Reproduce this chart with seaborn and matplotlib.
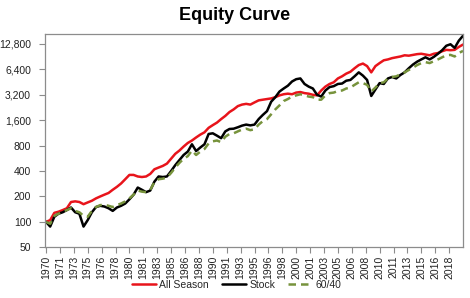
import numpy as np
import pandas as pd
import matplotlib
matplotlib.use("Agg")
import matplotlib.pyplot as plt
import seaborn as sns
from matplotlib.lines import Line2D
from matplotlib.ticker import FixedLocator, FuncFormatter

# half-yearly dates 1970.0 ... 2020.0
years = [1970 + 0.5 * k for k in range(101)]

all_season = [
    100, 105, 128, 132, 138, 145, 172, 175, 172, 162,
    170, 178, 190, 200, 210, 220, 240, 260, 285, 320,
    360, 360, 345, 340, 345, 370, 420, 440, 460, 490,
    560, 640, 700, 780, 860, 920, 1000, 1080, 1150, 1300,
    1400, 1500, 1650, 1800, 2000, 2150, 2350, 2450, 2500, 2450,
    2600, 2750, 2800, 2850, 2900, 3000, 3150, 3250, 3300, 3250,
    3400, 3450, 3350, 3300, 3200, 3150, 3600, 4000, 4300, 4500,
    5000, 5300, 5700, 6000, 6600, 7200, 7500, 7000, 5900, 7000,
    7600, 8200, 8400, 8700, 8900, 9100, 9400, 9300, 9500, 9700,
    9800, 9600, 9400, 9800, 10000, 10500, 10900, 10800, 10900, 11800,
    12600,
]

stock = [
    100, 88, 115, 125, 130, 138, 148, 130, 125, 88,
    105, 130, 150, 155, 152, 145, 135, 148, 155, 165,
    185, 210, 255, 240, 225, 235, 300, 345, 340, 345,
    400, 470, 540, 620, 680, 830, 690, 760, 830, 1100,
    1120, 1050, 980, 1180, 1260, 1270, 1320, 1380, 1420, 1390,
    1420, 1650, 1850, 2050, 2650, 3000, 3500, 3800, 4100, 4600,
    4900, 5000, 4300, 4000, 3800, 3200, 3050, 3600, 3950, 4050,
    4300, 4350, 4700, 4800, 5300, 5900, 5400, 4800, 3100, 3700,
    4400, 4300, 5000, 5200, 5000, 5500, 5900, 6600, 7300, 7900,
    8400, 8900, 8400, 9000, 9800, 10800, 12200, 12700, 11500, 14000,
    16000,
]

sixty_forty = [
    100, 95, 118, 125, 132, 138, 145, 135, 130, 118,
    115, 135, 150, 158, 160, 155, 150, 158, 165, 175,
    190, 210, 235, 228, 225, 240, 295, 320, 325, 335,
    380, 440, 500, 560, 600, 700, 620, 680, 730, 850,
    900, 920, 880, 1020, 1100, 1120, 1180, 1240, 1270, 1220,
    1250, 1420, 1560, 1650, 1880, 2150, 2400, 2700, 2850, 3050,
    3150, 3250, 3150, 3050, 3000, 2800, 2800, 3150, 3350, 3400,
    3550, 3600, 3800, 3900, 4200, 4500, 4400, 4200, 3500, 3900,
    4400, 4500, 5000, 5200, 5300, 5600, 5900, 6300, 6700, 7200,
    7600, 7800, 7600, 8000, 8400, 8900, 9400, 9500, 9100, 10000,
    10600,
]

series_names = ["All Season", "Stock", "60/40"]
y_ticks = [50, 100, 200, 400, 800, 1600, 3200, 6400, 12800]
x_tick_labels = ["1970", "1971", "1973", "1975", "1976", "1978", "1980", "1981",
                 "1983", "1985", "1986", "1988", "1990", "1991", "1993", "1995",
                 "1996", "1998", "2000", "2001", "2003", "2005", "2006", "2008",
                 "2010", "2011", "2013", "2015", "2016", "2018"]

df = pd.DataFrame({
    "year": years * 3,
    "value": all_season + stock + sixty_forty,
    "series": [series_names[0]] * len(years) + [series_names[1]] * len(years)
              + [series_names[2]] * len(years),
})

colors = {"All Season": "#E8141B", "Stock": "#000000", "60/40": "#77933C"}
dashes = {"All Season": "", "Stock": "", "60/40": (3, 2)}

sns.set_theme(style="white")
plt.rcParams["font.family"] = ["Liberation Sans", "DejaVu Sans"]

fig = plt.figure(figsize=(4.7, 2.98), dpi=100)
ax = fig.add_axes([45 / 470, 1 - 247.3 / 298, (463 - 45) / 470, (247.3 - 34) / 298])

sns.lineplot(data=df, x="year", y="value", hue="series", style="series",
             palette=colors, dashes=dashes, hue_order=series_names,
             style_order=series_names, linewidth=1.8, ax=ax, legend=False,
             estimator=None)

ax.set_yscale("log", base=2)
ax.set_ylim(50, 16800)
ax.set_xlim(1969.88, 2020.0)
ax.yaxis.set_major_locator(FixedLocator(y_ticks))
ax.yaxis.set_minor_locator(FixedLocator([]))
ax.yaxis.set_major_formatter(FuncFormatter(lambda v, p: f"{int(round(v)):,}"))

xpos = [1970 + i * 20 / 12 for i in range(len(x_tick_labels))]
ax.set_xticks(xpos)
ax.set_xticklabels(x_tick_labels, rotation=90)
ax.set_xlabel("")
ax.set_ylabel("")

for s in ax.spines.values():
    s.set_color("#8C8C8C")
    s.set_linewidth(0.9)
ax.tick_params(axis="both", which="major", length=4, width=0.8, color="#8C8C8C",
               labelsize=7.5, labelcolor="#222222", direction="out",
               bottom=True, left=True)
ax.tick_params(axis="y", pad=6)
ax.tick_params(axis="x", pad=2)

fig.text(0.5, 1 - 15 / 298, "Equity Curve", ha="center", va="center",
         fontsize=13, fontweight="bold", color="#000000")

handles = [
    Line2D([], [], color=colors["All Season"], lw=1.8),
    Line2D([], [], color=colors["Stock"], lw=1.8),
    Line2D([], [], color=colors["60/40"], lw=1.8, dashes=(3, 2)),
]
fig.legend(handles, series_names, loc="center", bbox_to_anchor=(0.503, 1 - 285 / 298),
           ncol=3, frameon=False, fontsize=7.5, handlelength=2.3,
           handletextpad=0.35, columnspacing=1.2)

fig.savefig("out.png", dpi=100, facecolor="white")
